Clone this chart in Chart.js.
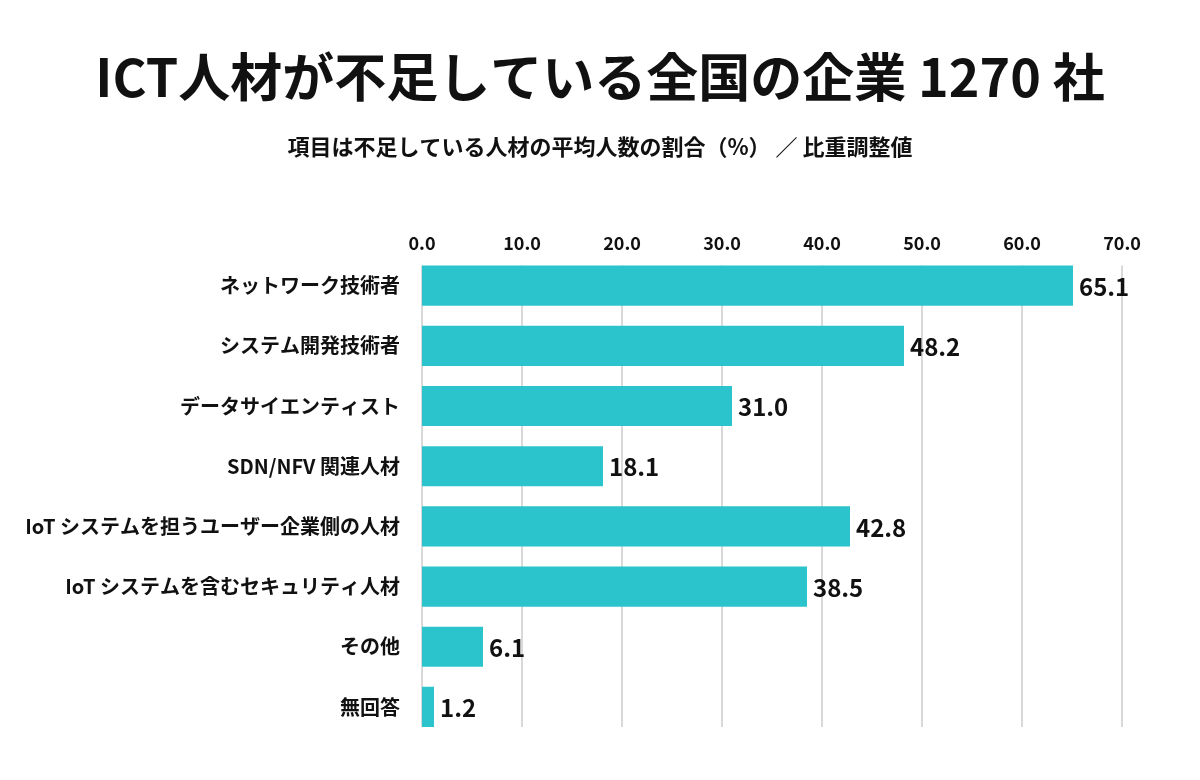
<!DOCTYPE html>
<html>
<head>
<meta charset="utf-8">
<script src="https://cdn.jsdelivr.net/npm/chart.js@4"></script>
<style>
  body { margin: 0; background: #fff; }
  canvas { display: block; }
</style>
</head>
<body>
<canvas id="ictChart" width="1200" height="780"></canvas>
<script>
const categories = [
  'ネットワーク技術者',
  'システム開発技術者',
  'データサイエンティスト',
  'SDN/NFV 関連人材',
  'IoT システムを担うユーザー企業側の人材',
  'IoT システムを含むセキュリティ人材',
  'その他',
  '無回答'
];
const shortagePct = [65.1, 48.2, 31.0, 18.1, 42.8, 38.5, 6.1, 1.2];
const xTicks = [0, 10, 20, 30, 40, 50, 60, 70];

const titleText = 'ICT人材が不足している全国の企業 1270 社';
const subtitleText = '項目は不足している人材の平均人数の割合（%） ／ 比重調整値';

const FONT = '"Noto Sans CJK JP", "Noto Sans", sans-serif';

// タイトルはキャンバス全幅の中央に置く
const headings = {
  id: 'headings',
  afterDraw(chart) {
    const ctx = chart.ctx;
    const cx = chart.width / 2;
    ctx.save();
    ctx.fillStyle = '#111';
    ctx.textAlign = 'center';
    ctx.textBaseline = 'middle';
    ctx.font = 'bold 52px ' + FONT;
    ctx.fillText(titleText, cx, 77);
    ctx.font = 'bold 22px ' + FONT;
    ctx.fillText(subtitleText, cx, 147);
    ctx.restore();
  }
};

// 縦の目盛線は最初の棒の上端から最後の棒の下端まで
const gridLines = {
  id: 'gridLines',
  beforeDatasetsDraw(chart) {
    const ctx = chart.ctx;
    const bars = chart.getDatasetMeta(0).data;
    const first = bars[0], last = bars[bars.length - 1];
    const top = first.y - first.height / 2;
    const bottom = last.y + last.height / 2;
    const xs = chart.scales.x;
    ctx.save();
    ctx.strokeStyle = '#d9d9d9';
    ctx.lineWidth = 2;
    xTicks.forEach(v => {
      const px = Math.round(xs.getPixelForValue(v));
      ctx.beginPath();
      ctx.moveTo(px, top);
      ctx.lineTo(px, bottom);
      ctx.stroke();
    });
    ctx.restore();
  }
};

// 棒の右に数値を描く
const valueLabels = {
  id: 'valueLabels',
  afterDatasetsDraw(chart) {
    const ctx = chart.ctx;
    const meta = chart.getDatasetMeta(0);
    ctx.save();
    ctx.font = 'bold 24px ' + FONT;
    ctx.fillStyle = '#111';
    ctx.textAlign = 'left';
    ctx.textBaseline = 'middle';
    meta.data.forEach((bar, i) => {
      ctx.fillText(shortagePct[i].toFixed(1), bar.x + 6, bar.y + 1);
    });
    ctx.restore();
  }
};

new Chart(document.getElementById('ictChart'), {
  type: 'bar',
  data: {
    labels: categories,
    datasets: [{
      data: shortagePct,
      backgroundColor: '#2bc4cc',
      borderWidth: 0,
      barPercentage: 1,
      categoryPercentage: 0.667
    }]
  },
  options: {
    indexAxis: 'y',
    responsive: false,
    animation: false,
    layout: { padding: { left: 0, right: 78, top: 230, bottom: 43 } },
    plugins: {
      legend: { display: false },
      tooltip: { enabled: false },
      title: { display: false }
    },
    scales: {
      x: {
        position: 'top',
        min: 0,
        max: 70,
        afterBuildTicks: s => { s.ticks = xTicks.map(v => ({ value: v })); },
        ticks: {
          color: '#111',
          padding: 2,
          font: { family: FONT, size: 18, weight: 'bold' },
          callback: v => Number(v).toFixed(1)
        },
        grid: { display: false, drawTicks: false },
        border: { display: false }
      },
      y: {
        afterFit: s => { s.width = 422; },
        ticks: {
          color: '#111',
          padding: 22,
          font: { family: FONT, size: 20, weight: 'bold' }
        },
        grid: { display: false, drawTicks: false },
        border: { display: false }
      }
    }
  },
  plugins: [gridLines, valueLabels, headings]
});
</script>
</body>
</html>
